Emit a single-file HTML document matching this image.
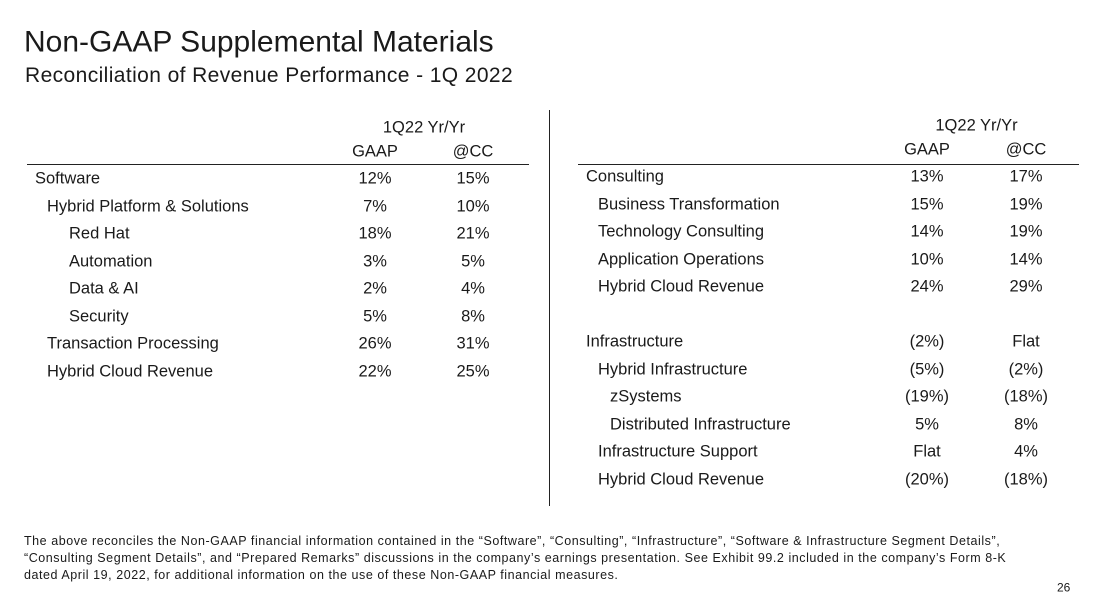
<!DOCTYPE html>
<html><head><meta charset="utf-8"><style>
body{margin:0;width:1094px;height:612px;background:#fff;position:relative;overflow:hidden;font-family:"Liberation Sans",sans-serif;color:#1a1a1a}
.t{position:absolute;white-space:nowrap;font-size:16.5px;line-height:17px;transform:translateY(-50%)}
.c{transform:translate(-50%,-50%)}
.line{position:absolute;background:#222}
</style></head><body>
<div class="t" style="left:24px;top:42px;font-size:30px;line-height:31px">Non-GAAP Supplemental Materials</div>
<div class="t" style="left:25px;top:76px;font-size:21px;line-height:22px;letter-spacing:0.4px">Reconciliation of Revenue Performance - 1Q 2022</div>
<div class="line" style="left:549px;top:110px;width:1px;height:396px"></div>
<div class="line" style="left:27px;top:164px;width:502px;height:1px"></div>
<div class="line" style="left:578px;top:164px;width:501px;height:1px"></div>
<div id="tables"></div>
<div style="position:absolute;left:24px;top:533px;font-size:12.5px;line-height:17px;letter-spacing:0.55px">The above reconciles the Non-GAAP financial information contained in the “Software”, “Consulting”, “Infrastructure”, “Software &amp; Infrastructure Segment Details”,<br>“Consulting Segment Details”, and “Prepared Remarks” discussions in the company’s earnings presentation. See Exhibit 99.2 included in the company’s Form 8-K<br>dated April 19, 2022, for additional information on the use of these Non-GAAP financial measures.</div>
<div class="t" style="left:1057px;top:588px;font-size:12px">26</div>
<script>
const leftLabels=["Software","Hybrid Platform & Solutions","Red Hat","Automation","Data & AI","Security","Transaction Processing","Hybrid Cloud Revenue"];
const leftIndent=[0,1,2,2,2,2,1,1];
const leftGaap=["12%","7%","18%","3%","2%","5%","26%","22%"];
const leftCC=["15%","10%","21%","5%","4%","8%","31%","25%"];
const rightLabels=["Consulting","Business Transformation","Technology Consulting","Application Operations","Hybrid Cloud Revenue","","Infrastructure","Hybrid Infrastructure","zSystems","Distributed Infrastructure","Infrastructure Support","Hybrid Cloud Revenue"];
const rightIndent=[0,1,1,1,1,0,0,1,2,2,1,1];
const rightGaap=["13%","15%","14%","10%","24%","","(2%)","(5%)","(19%)","5%","Flat","(20%)"];
const rightCC=["17%","19%","19%","14%","29%","","Flat","(2%)","(18%)","8%","4%","(18%)"];
const root=document.getElementById('tables');
function txt(s,x,y,center,name){const d=document.createElement('div');d.className='t'+(center?' c':'');d.style.left=x+'px';d.style.top=y+'px';d.textContent=s;


root.appendChild(d);}
function table(labels,indent,g,cc,lx,offs,gx,cx,y0,hy,side){
 txt("1Q22 Yr/Yr",(gx+cx)/2,hy,true,side+'-period-header');
 txt("GAAP",gx,hy+24,true,side+'-gaap-header');
 txt("@CC",cx,hy+24,true,side+'-cc-header');
 labels.forEach((l,i)=>{const y=y0+i*27.5;if(!l)return;
  txt(l,lx+offs[indent[i]],y,false,side+'-row-label');
  txt(g[i],gx,y,true,side+'-gaap-value');
  txt(cc[i],cx,y,true,side+'-cc-value');});
}
table(leftLabels,leftIndent,leftGaap,leftCC,35,[0,12,34],375,473,179,128,'left');
table(rightLabels,rightIndent,rightGaap,rightCC,586,[0,12,24],927,1026,177,126,'right');
</script>
</body></html>
